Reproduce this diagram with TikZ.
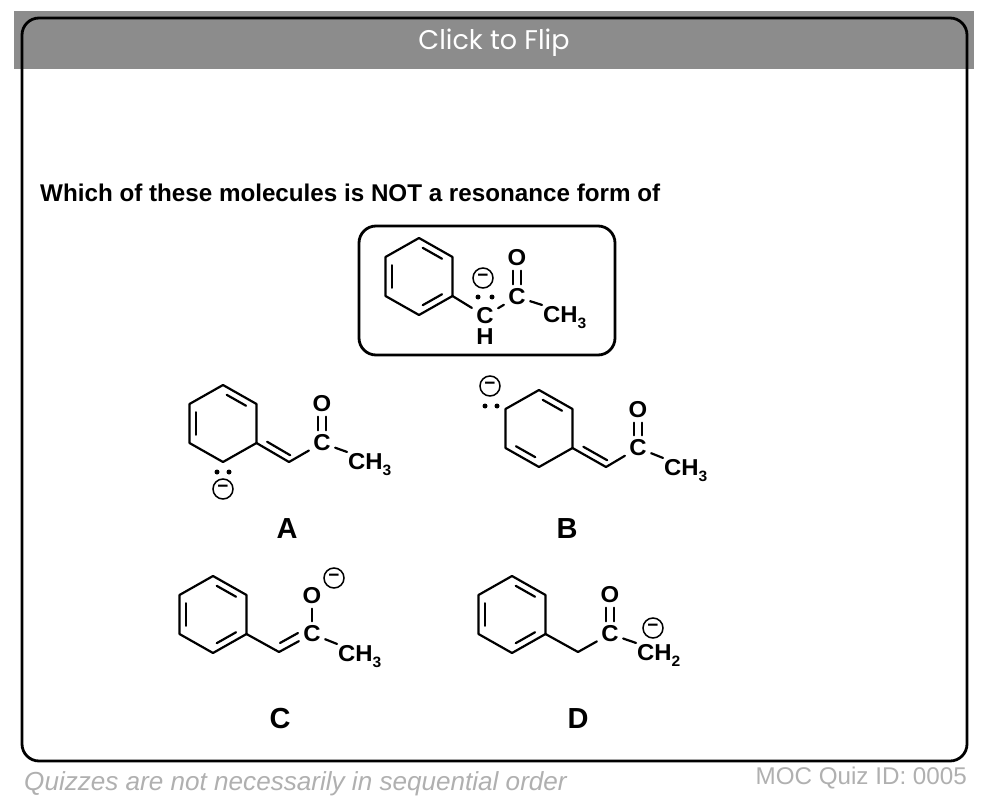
\documentclass[tikz,border=0pt]{standalone}
\usepackage{fontspec}
\setmainfont{Liberation Sans}
\newfontfamily\popfont{Poppins}
\newfontfamily\atomfont[FakeStretch=1.04]{Liberation Sans}
\usetikzlibrary{calc}
\definecolor{hdr}{HTML}{8C8C8C}
\definecolor{foot}{HTML}{B0B0B0}
\tikzset{
  bond/.style={draw=black,line width=2.2pt,line cap=round,line join=round},
  atomlbl/.style={font=\atomfont\bfseries\fontsize{23}{23}\selectfont,inner sep=0pt,outer sep=4.5pt,text=black,anchor=center},
  grp/.style={font=\atomfont\bfseries\fontsize{23}{23}\selectfont,inner sep=0pt,outer sep=1pt,text=black,anchor=base west},
  charge/.style={circle,draw=black,line width=1.5pt,minimum size=20pt,inner sep=0pt,font=\bfseries\fontsize{19}{19}\selectfont},
  lone/.style={circle,fill=black,minimum size=5pt,inner sep=0pt},
  letter/.style={font=\bfseries\fontsize{29}{29}\selectfont,inner sep=0pt,text=black},
  framebox/.style={draw=black,line width=2.8pt,rounded corners=17pt,outer sep=0pt},
}
\newcommand{\ringpts}[3]{%
  \coordinate (#1a) at (#2,#3);
  \coordinate (#1b) at (#2+33.5,#3+19);
  \coordinate (#1c) at (#2+33.5,#3+58);
  \coordinate (#1d) at (#2,#3+77);
  \coordinate (#1e) at (#2-33.5,#3+58);
  \coordinate (#1f) at (#2-33.5,#3+19);
  \coordinate (#1o) at (#2,#3+38.5);
  \draw[bond] (#1a)--(#1b)--(#1c)--(#1d)--(#1e)--(#1f)--cycle;}
\newcommand{\ringdb}[3]{\draw[bond] ($(#2)!.14!(#3)!.2!(#1o)$) -- ($(#3)!.14!(#2)!.2!(#1o)$);}
\newcommand{\subgrp}[1]{CH{\raisebox{-.28em}{\fontsize{15}{15}\selectfont #1}}}
\begin{document}
\begin{tikzpicture}[x=1pt,y=-1pt]
\useasboundingbox (0,0) rectangle (990,802);
\fill[white] (0,0) rectangle (990,802);
\fill[hdr] (14,11) rectangle (974,69);
\node[framebox,minimum width=945pt,minimum height=743pt,anchor=north west,inner sep=0pt] (frame) at (22,18) {};
\node[text=white,font=\popfont\fontsize{27}{27}\selectfont,inner sep=0pt] (flip) at (494,42.5) {Click to Flip};
\node[font=\bfseries\fontsize{24.2}{25}\selectfont,anchor=base west,inner sep=0pt] (question) at (40,202) {Which of these molecules is NOT a resonance form of};
\node[framebox,minimum width=256pt,minimum height=129pt,anchor=north west,inner sep=0pt] (qbox) at (359,226) {};

% reference molecule
\ringpts{r}{419}{238}
\ringdb{r}{ra}{rb}\ringdb{r}{rc}{rd}\ringdb{r}{re}{rf}
\node[atomlbl] (rch) at (485,316) {C};
\node[atomlbl] (rh) at (485,337) {H};
\node[atomlbl] (rco) at (517,297) {C};
\node[atomlbl] (ro) at (517,258) {O};
\node[grp] (rme) at (542,322) {\subgrp{3}};
\node[charge] (rq) at (483,278) {−};
\node[lone] (rl1) at (478,297) {};
\node[lone] (rl2) at (492,297) {};
\draw[bond] (rc)--(rch);
\draw[bond] (rch)--(rco);
\draw[bond] (rco)--(rme.north west);
\draw[bond] ([xshift=-4pt]rco.north)--([xshift=-4pt]ro.south);
\draw[bond] ([xshift=4pt]rco.north)--([xshift=4pt]ro.south);

% A
\ringpts{a}{223}{385}
\ringdb{a}{aa}{ab}\ringdb{a}{ae}{af}
\coordinate (ach) at (289,462);
\node[atomlbl] (aco) at (322,443) {C};
\node[atomlbl] (ao) at (322,404) {O};
\node[grp] (ame) at (347,469) {\subgrp{3}};
\node[charge] (aq) at (223,489) {−};
\node[lone] (al1) at (217,472) {};
\node[lone] (al2) at (229,472) {};
\draw[bond] (ac)--(ach)--(aco);
\draw[bond] ($(ac)!.25!(ach)+(2.5,-6)$)--($(ac)!.96!(ach)+(2.5,-6)$);
\draw[bond] (aco)--(ame.north west);
\draw[bond] ([xshift=-4pt]aco.north)--([xshift=-4pt]ao.south);
\draw[bond] ([xshift=4pt]aco.north)--([xshift=4pt]ao.south);
\node[letter] (la) at (287,529) {A};

% B
\ringpts{b}{539}{390}
\ringdb{b}{ba}{bb}\ringdb{b}{bd}{be}
\coordinate (bch) at (606,467);
\node[atomlbl] (bco) at (638,448) {C};
\node[atomlbl] (bo) at (638,410) {O};
\node[grp] (bme) at (663,475) {\subgrp{3}};
\node[charge] (bq) at (490,386) {−};
\node[lone] (bl1) at (485,406) {};
\node[lone] (bl2) at (497,406) {};
\draw[bond] (bc)--(bch)--(bco);
\draw[bond] ($(bc)!.25!(bch)+(2.5,-6)$)--($(bc)!.96!(bch)+(2.5,-6)$);
\draw[bond] (bco)--(bme.north west);
\draw[bond] ([xshift=-4pt]bco.north)--([xshift=-4pt]bo.south);
\draw[bond] ([xshift=4pt]bco.north)--([xshift=4pt]bo.south);
\node[letter] (lb) at (567,529) {B};

% C
\ringpts{c}{213}{576}
\ringdb{c}{ca}{cb}\ringdb{c}{cc}{cd}\ringdb{c}{ce}{cf}
\coordinate (cch) at (279,652);
\node[atomlbl] (cco) at (312,634) {C};
\node[atomlbl] (co) at (312,596) {O};
\node[grp] (cme) at (337,661) {\subgrp{3}};
\node[charge] (cq) at (334,578) {−};
\draw[bond] (cc)--(cch)--(cco);
\draw[bond] ($(cch)+(1,-9)$)--($(cch)+(19,-19)$);
\draw[bond] (cco)--(cme.north west);
\draw[bond] (cco.north)--(co.south);
\node[letter] (lc) at (280,719) {C};

% D
\ringpts{d}{512}{576}
\ringdb{d}{da}{db}\ringdb{d}{dc}{dd}\ringdb{d}{de}{df}
\coordinate (dch) at (578,652);
\node[atomlbl] (dco) at (610,634) {C};
\node[atomlbl] (do) at (610,595) {O};
\node[grp] (dme) at (636,660) {\subgrp{2}};
\node[charge] (dq) at (653,628) {−};
\draw[bond] (dc)--(dch)--(dco);
\draw[bond] (dco)--(dme.north west);
\draw[bond] ([xshift=-4pt]dco.north)--([xshift=-4pt]do.south);
\draw[bond] ([xshift=4pt]dco.north)--([xshift=4pt]do.south);
\node[letter] (ld) at (578,719) {D};

% footer
\node[text=foot,font=\itshape\fontsize{26.1}{26}\selectfont,anchor=base west,inner sep=0pt] (fl) at (24,790) {Quizzes are not necessarily in sequential order};
\node[text=foot,font=\fontsize{24.2}{24}\selectfont,anchor=base east,inner sep=0pt] (fr) at (967,784) {MOC Quiz ID: 0005};
\end{tikzpicture}
\end{document}
